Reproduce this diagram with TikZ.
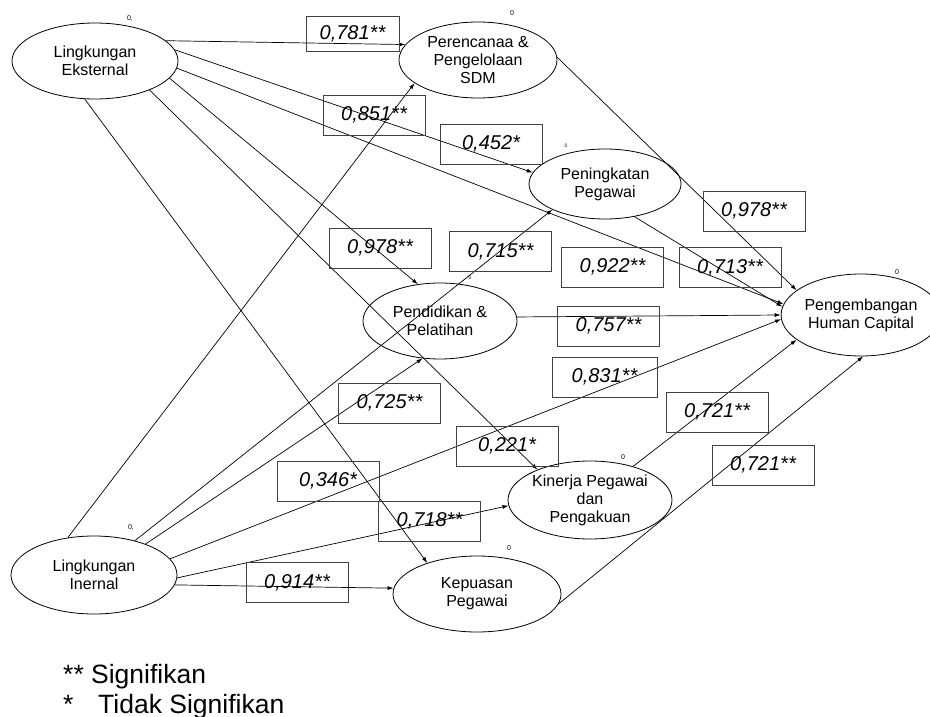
\documentclass[tikz,border=0pt]{standalone}
\usepackage{fontspec}
\setmainfont{Liberation Sans}
\usetikzlibrary{positioning, shapes.geometric, arrows.meta}
\tikzstyle{Arrow} = [
%Custom arrow style:
line width=0.7pt,
-{Latex[length=6pt, width=4pt]}
]

\begin{document}
\begin{tikzpicture}[x=1pt, y=-1pt,
			latent/.style = {ellipse, draw, line width=0.8pt, inner sep=0pt, align=center, font=\fontsize{16}{18}\selectfont},
			coef/.style = {rectangle, draw=black!75, line width=0.9pt, minimum width=102pt, minimum height=40pt, inner sep=0pt, font=\fontsize{20}{22}\selectfont\itshape},
			zero/.style = {inner sep=0pt, font=\fontsize{7}{7}\selectfont},
			note/.style = {anchor=base west, inner sep=0pt, font=\fontsize{26.5}{28}\selectfont},
		]
		\useasboundingbox (0,0) rectangle (930,717);

		% variables
		\node[latent, minimum width=166pt, minimum height=76pt](LE) at (95,61){Lingkungan\\Eksternal};
		\node[latent, minimum width=166pt, minimum height=78pt](LI) at (94,575){Lingkungan\\Inernal};
		\node[latent, minimum width=158pt, minimum height=76pt](PSDM) at (478,60){Perencanaa \&\\Pengelolaan\\SDM};
		\node[latent, minimum width=152pt, minimum height=70pt](PP) at (605,184){Peningkatan\\Pegawai};
		\node[latent, minimum width=154pt, minimum height=76pt](PDL) at (440,321){Pendidikan \&\\Pelatihan};
		\node[latent, minimum width=142pt, minimum height=82pt](PHC) at (861,315){Pengembangan\\Human Capital};
		\node[latent, minimum width=164pt, minimum height=78pt](KPP) at (590,500){Kinerja Pegawai\\dan\\Pengakuan};
		\node[latent, minimum width=168pt, minimum height=76pt](KP) at (477,594){Kepuasan\\Pegawai};

		\node[zero](zLE) at (130,19){0,};
		\node[zero](zLI) at (131,528){0,};
		\node[zero](zPSDM) at (512,13){0};
		\node[zero, font=\fontsize{5}{5}\selectfont](zPP) at (566,146){0};
		\node[zero, font=\fontsize{5}{5}\selectfont](zPDL) at (470,278){0};
		\node[zero](zPHC) at (897,272){0};
		\node[zero](zKPP) at (623,457){0};
		\node[zero](zKP) at (509,548){0};

		% paths
		\draw[Arrow](LE.16)--(PSDM.168);
		\draw[Arrow](LE.8)--(PP.171);
		\draw[Arrow](LE.-5)--(PHC.172);
		\draw[Arrow](LE.-13)--(PDL.121);
		\draw[Arrow](LE.-28)--(KPP.150);
		\draw[Arrow](LE.-105)--(KP.148);
		\draw[Arrow](LI.125)--(PSDM.200);
		\draw[Arrow](LI.40)--(PP.206);
		\draw[Arrow](LI.31)--(PDL.245);
		\draw[Arrow](LI.12)--(PHC.183);
		\draw[Arrow](LI.-2)--(KPP.184);
		\draw[Arrow](LI.-7)--(KP.176);
		\draw[Arrow](PSDM.2)--(PHC.159);
		\draw[Arrow](PP.-48)--(PHC.174);
		\draw[Arrow](PDL.3)--(PHC.180);
		\draw[Arrow](KPP.38)--(PHC.201);
		\draw[Arrow](KP.-7)--(PHC.-87);

		% coefficients
		\node[coef, minimum width=93pt, minimum height=35pt](w1) at (352.5,33.5){0,781**};
		\node[coef](w2) at (374,115){0,851**};
		\node[coef](w3) at (491,144){0,452*};
		\node[coef](w4) at (754,211){0,978**};
		\node[coef](w5) at (612.5,267){0,922**};
		\node[coef](w6) at (730,267.5){0,713**};
		\node[coef](w7) at (608.5,326){0,757**};
		\node[coef, minimum width=105pt](w8) at (604.5,377){0,831**};
		\node[coef](w9) at (380,248){0,978**};
		\node[coef](w10) at (500.5,251.5){0,715**};
		\node[coef](w11) at (389.5,403){0,725**};
		\node[coef](w12) at (507,446){0,221*};
		\node[coef](w13) at (328,481){0,346*};
		\node[coef](w14) at (429.5,521){0,718**};
		\node[coef](w15) at (297,582.5){0,914**};
		\node[coef](w16) at (717,412){0,721**};
		\node[coef](w17) at (763,465){0,721**};

		% legend
		\node[note](n1) at (63,683){** Signifikan};
		\node[note](n2) at (63,713){*\hspace{24.7pt}Tidak Signifikan};
	\end{tikzpicture}
\end{document}
